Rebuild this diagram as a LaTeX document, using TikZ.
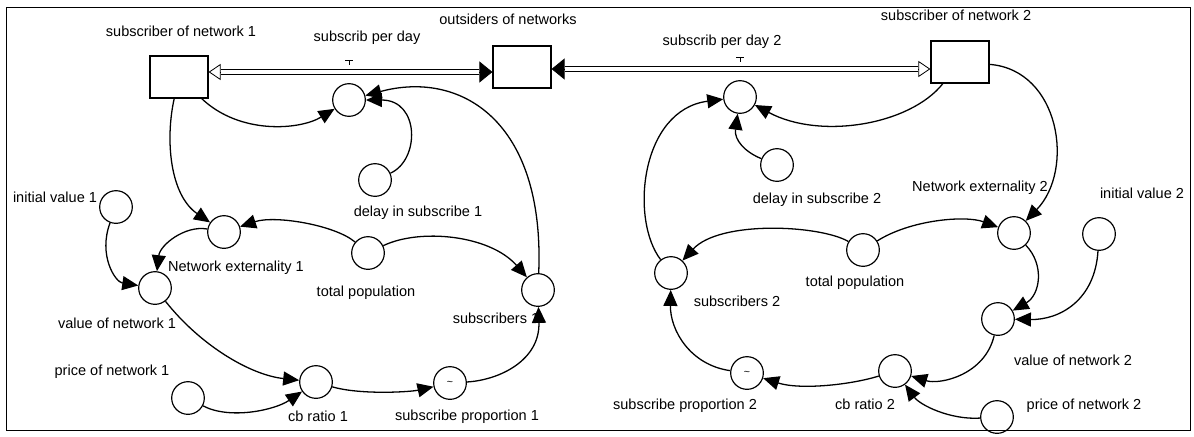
\documentclass[tikz,border=0pt]{standalone}
\usepackage{fontspec}
\setmainfont{Liberation Sans}
\usetikzlibrary{arrows.meta}

\tikzset{
  stock/.style={draw, line width=1pt, minimum width=17.4mm, minimum height=12.6mm, inner sep=0pt},
  aux/.style={draw, circle, line width=1pt, minimum size=9.8mm, inner sep=0pt},
  lbl/.style={font=\fontsize{12.4}{14}\selectfont, inner sep=0pt},
  link/.style={line width=1.1pt, -{Triangle[length=4.8mm,width=4.2mm]}},
  flowtips/.style={line width=0.7pt, {Triangle[length=3.9mm,width=6.3mm]}-{Triangle[open,length=3.6mm,width=4.8mm]}},
  pipe/.style={line width=0.8pt, double, double distance=1.1mm, shorten <=3.9mm, shorten >=3.6mm}
}

\begin{document}
\begin{tikzpicture}[x=0.3mm, y=-0.3mm]
	\useasboundingbox (0,0) rectangle (1194,436);

	% Frame
	\draw[line width=0.8pt] (6,7) rectangle (1190,430);

	% Stocks
	\node[stock] (sub1) at (179,77) {};
	\node[stock] (outs) at (522,67) {};
	\node[stock] (sub2) at (960,62) {};
	\node[lbl] (t-sub1) at (181,31) {subscriber of network 1};
	\node[lbl] (t-outs) at (508,19) {outsiders of networks};
	\node[lbl] (t-sub2) at (956,15) {subscriber of network 2};

	% Flows
	\draw[flowtips] (outs.west |- 0,72) -- (sub1.east |- 0,72);
	\draw[pipe] (outs.west |- 0,72) -- (sub1.east |- 0,72);
	\draw[flowtips] (outs.east |- 0,69) -- (sub2.west |- 0,69);
	\draw[pipe] (outs.east |- 0,69) -- (sub2.west |- 0,69);
	\draw[line width=0.7pt] (345,60) -- (353,60) (349,60) -- (349,65);
	\draw[line width=0.7pt] (736,57) -- (744,57) (740,57) -- (740,62);
	\node[lbl] (t-spd1) at (367,38) {subscrib per day};
	\node[lbl] (t-spd2) at (722,42) {subscrib per day 2};

	% Network 1
	\node[aux] (spd1) at (349,100) {};
	\node[aux] (delay1) at (375,180) {};
	\node[aux] (netx1) at (224,232) {};
	\node[aux] (init1) at (116,207) {};
	\node[aux] (val1) at (155,288) {};
	\node[aux] (pop1) at (368,253) {};
	\node[aux] (subs1) at (538,290) {};
	\node[aux] (cb1) at (316,382) {};
	\node[aux] (prop1) at (450,383) {\small\textasciitilde};
	\node[aux] (price1) at (188,398) {};
	\node[lbl] (t-delay1) at (418,213) {delay in subscribe 1};
	\node[lbl] (t-init1) at (55,197) {initial value 1};
	\node[lbl] (t-netx1) at (236,268) {Network externality 1};
	\node[lbl] (t-pop1) at (366,293) {total population};
	\node[lbl] (t-val1) at (117,323) {value of network 1};
	\node[lbl] (t-subs1) at (496,318) {subscribers 1};
	\node[lbl] (t-price1) at (112,372) {price of network 1};
	\node[lbl] (t-cb1) at (318,416) {cb ratio 1};
	\node[lbl] (t-prop1) at (467,417) {subscribe proportion 1};

	\draw[link] (sub1) .. controls (240,135) and (300,130) .. (spd1);
	\draw[link] (delay1) .. controls (420,160) and (420,100) .. (spd1);
	\draw[link] (subs1) .. controls (545,120) and (460,70) .. (spd1);
	\draw[link] (sub1) .. controls (165,140) and (170,195) .. (netx1);
	\draw[link] (pop1) .. controls (335,225) and (275,215) .. (netx1);
	\draw[link] (netx1) .. controls (185,225) and (160,245) .. (val1);
	\draw[link] (init1) .. controls (98,255) and (115,282) .. (val1);
	\draw[link] (pop1) .. controls (420,228) and (490,235) .. (subs1);
	\draw[link] (val1) .. controls (200,345) and (250,375) .. (cb1);
	\draw[link] (price1) .. controls (230,420) and (275,410) .. (cb1);
	\draw[link] (cb1) .. controls (360,395) and (410,392) .. (prop1);
	\draw[link] (prop1) .. controls (500,380) and (540,360) .. (subs1);

	% Network 2
	\node[aux] (spd2) at (740,97) {};
	\node[aux] (delay2) at (777,165) {};
	\node[aux] (netx2) at (1014,233) {};
	\node[aux] (init2) at (1099,234) {};
	\node[aux] (pop2) at (863,250) {};
	\node[aux] (subs2) at (671,273) {};
	\node[aux] (val2) at (998,319) {};
	\node[aux] (cb2) at (895,371) {};
	\node[aux] (prop2) at (747,373) {\small\textasciitilde};
	\node[aux] (price2) at (997,417) {};
	\node[lbl] (t-delay2) at (817,200) {delay in subscribe 2};
	\node[lbl] (t-netx2) at (980,188) {Network externality 2};
	\node[lbl] (t-init2) at (1142,193) {initial value 2};
	\node[lbl] (t-pop2) at (855,283) {total population};
	\node[lbl] (t-subs2) at (737,301) {subscribers 2};
	\node[lbl] (t-val2) at (1073,360) {value of network 2};
	\node[lbl] (t-cb2) at (865,404) {cb ratio 2};
	\node[lbl] (t-prop2) at (685,406) {subscribe proportion 2};
	\node[lbl] (t-price2) at (1084,406) {price of network 2};

	\draw[link] (sub2) .. controls (910,125) and (820,140) .. (spd2);
	\draw[link] (delay2) .. controls (745,152) and (734,140) .. (spd2);
	\draw[link] (subs2) .. controls (630,220) and (640,110) .. (spd2);
	\draw[link] (pop2) .. controls (820,225) and (720,220) .. (subs2);
	\draw[link] (pop2) .. controls (910,220) and (965,215) .. (netx2);
	\draw[link] (sub2) .. controls (1060,70) and (1075,170) .. (netx2);
	\draw[link] (netx2) .. controls (1045,265) and (1040,295) .. (val2);
	\draw[link] (init2) .. controls (1095,300) and (1060,320) .. (val2);
	\draw[link] (val2) .. controls (985,375) and (940,385) .. (cb2);
	\draw[link] (price2) .. controls (950,420) and (920,405) .. (cb2);
	\draw[link] (cb2) .. controls (850,385) and (800,390) .. (prop2);
	\draw[link] (prop2) .. controls (690,365) and (670,330) .. (subs2);
\end{tikzpicture}
\end{document}
